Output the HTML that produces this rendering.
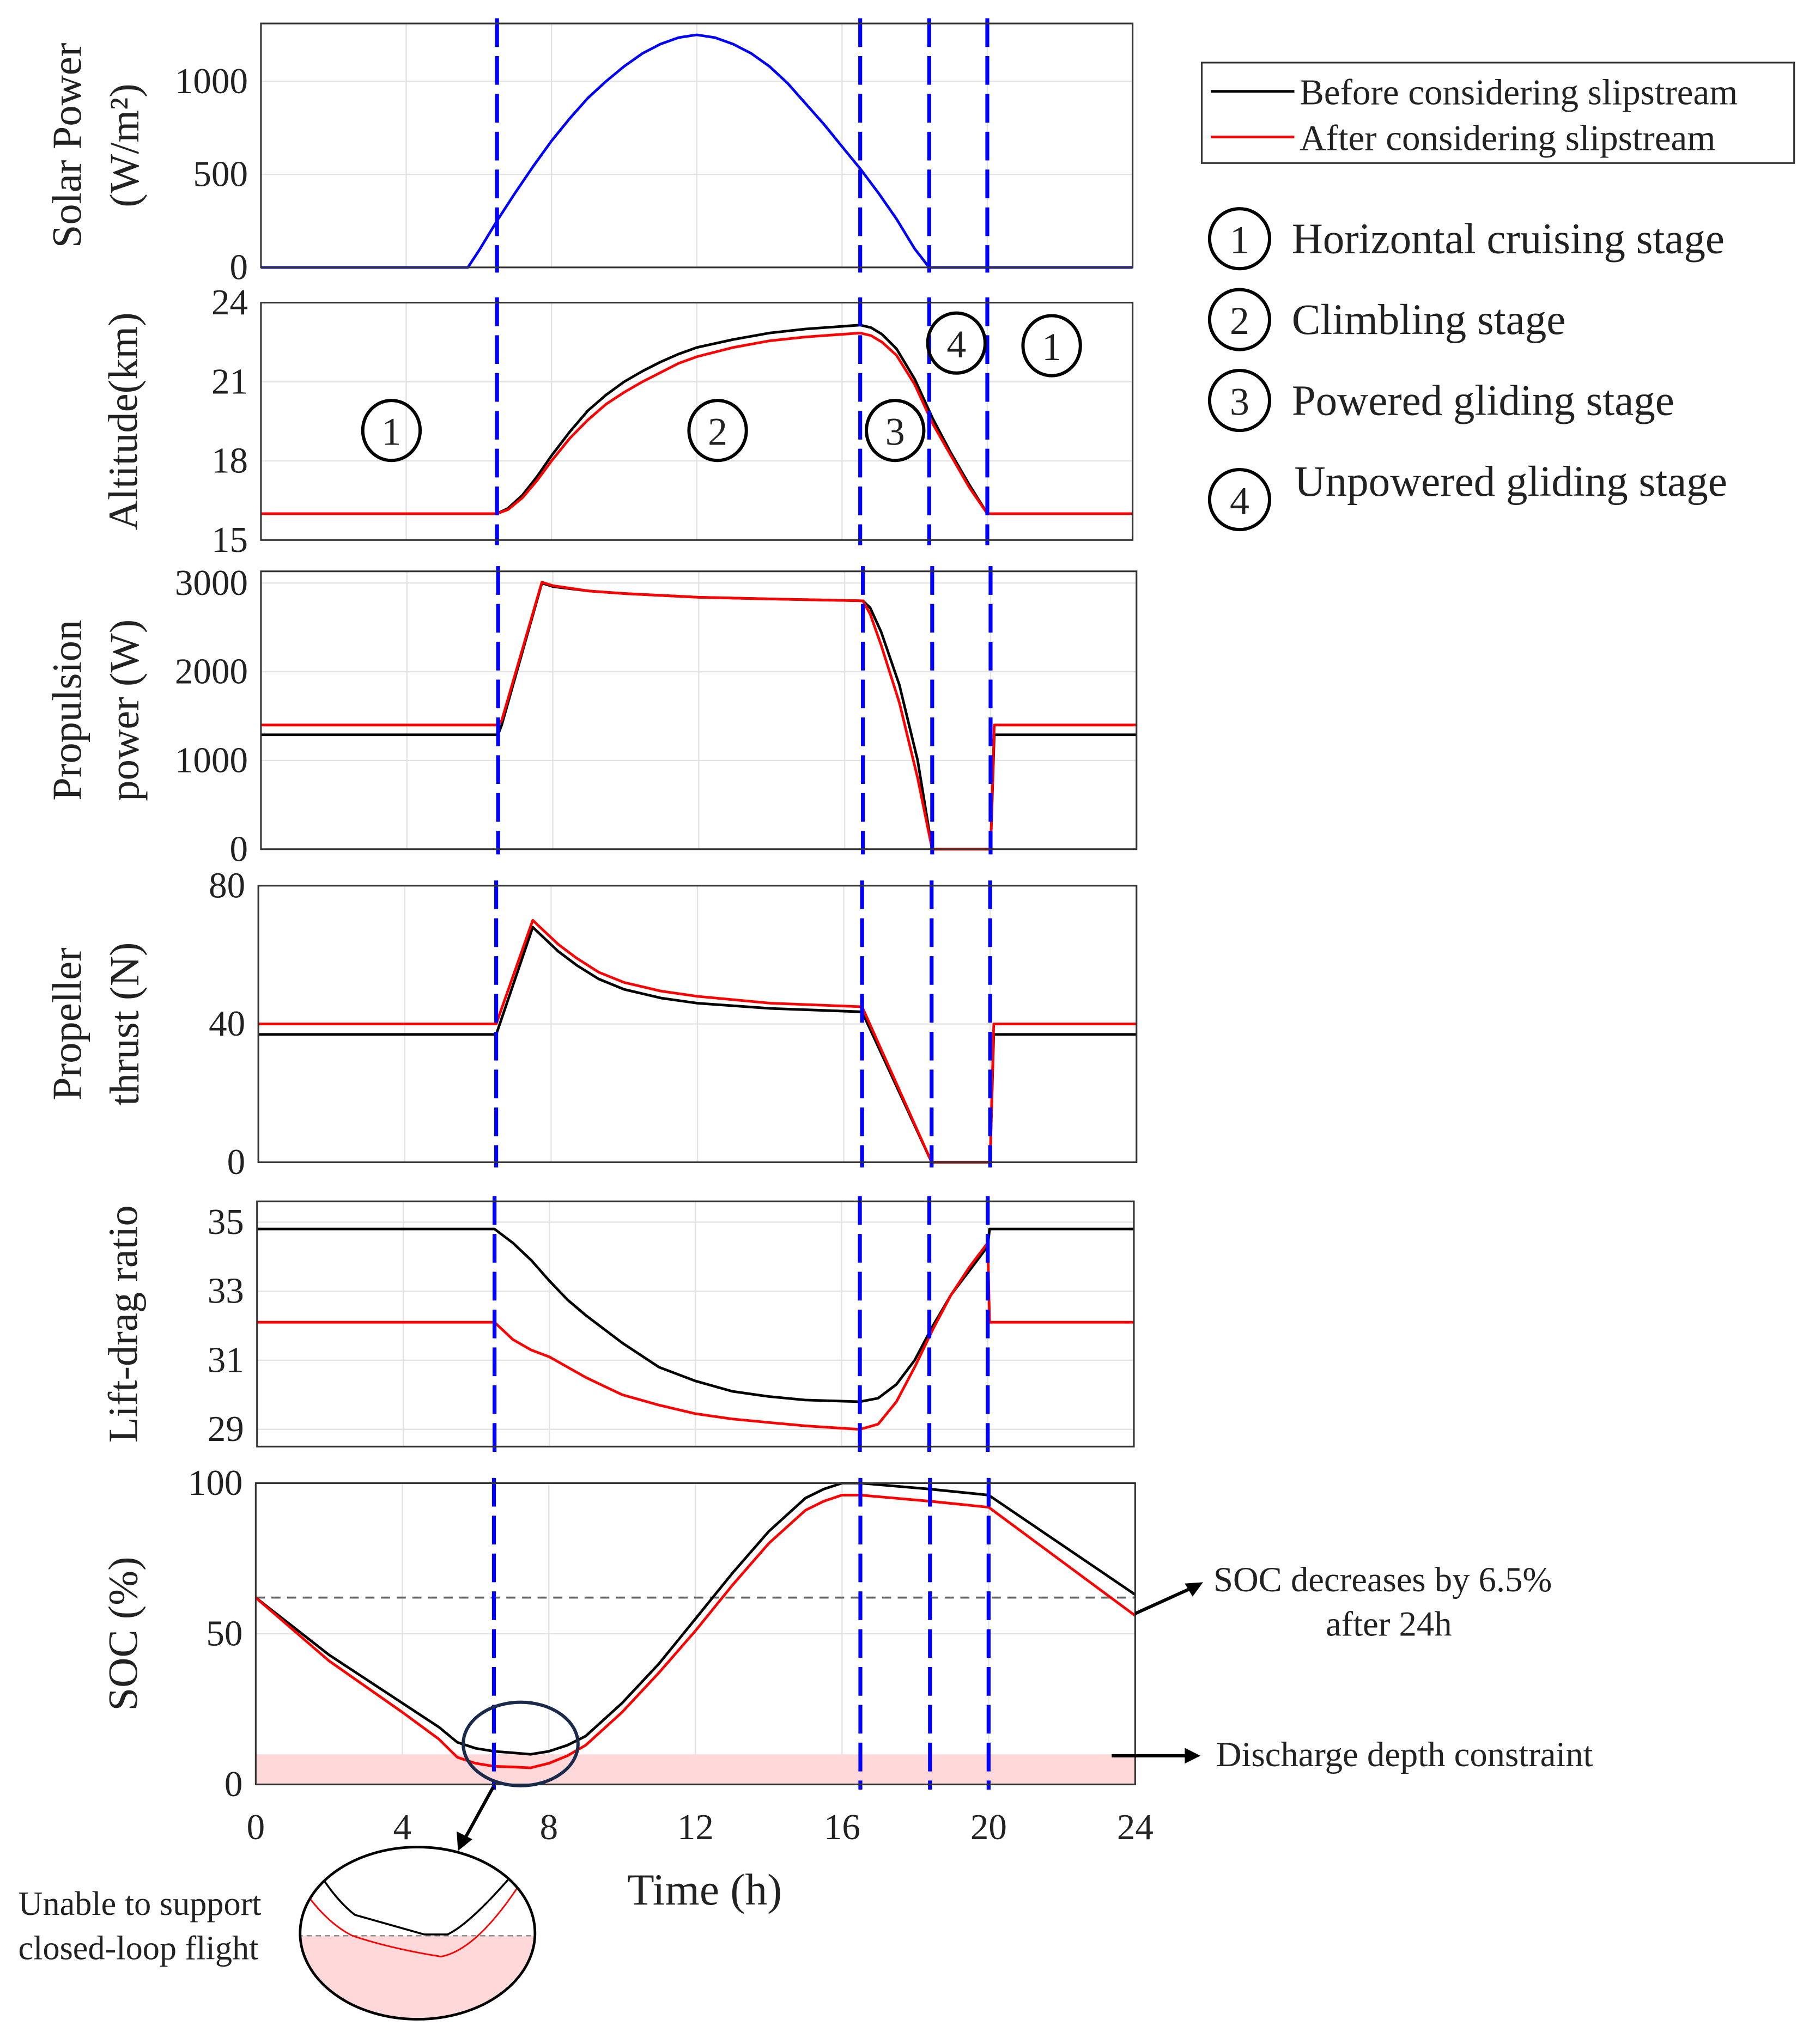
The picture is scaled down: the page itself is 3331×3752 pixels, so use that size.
<!DOCTYPE html>
<html><head><meta charset="utf-8"><style>
html,body{margin:0;padding:0;background:#fff}
body{position:relative;width:3331px;height:3752px;overflow:hidden}
svg{display:block}
text{font-family:"Liberation Serif",serif;fill:#222}
</style></head><body>
<svg id="chart" width="3331" height="3752" viewBox="0 0 1391 1567" preserveAspectRatio="none" xmlns="http://www.w3.org/2000/svg" style="position:absolute;left:0;top:0">
<g id="root"></g>
</svg>
<script>
// ===== data =====
const phaseTimes = [6.5, 16.5, 18.4, 20];
const solarT = [0,5.7,6,6.5,7,7.5,8,8.5,9,9.5,10,10.5,11,11.5,12,12.5,13,13.5,14,14.5,15,15.5,16,16.5,17,17.5,18,18.4,24];
const solarV = [0,0,90,250,400,545,680,800,910,1000,1080,1150,1200,1235,1250,1235,1200,1150,1080,990,880,770,650,530,400,260,100,0,0];
const altT = [0,6.5,6.8,7.2,7.6,8,8.5,9,9.5,10,10.5,11,11.5,12,13,14,15,16,16.5,16.8,17.1,17.5,18,18.5,19,19.5,20,24];
const altBlack = [16,16,16.2,16.7,17.4,18.2,19.1,19.9,20.5,21,21.4,21.75,22.05,22.3,22.6,22.85,23,23.1,23.15,23.05,22.8,22.25,21.1,19.6,18.3,17.1,16,16];
const altRed = [16,16,16.15,16.6,17.25,18.0,18.85,19.55,20.15,20.6,21.0,21.35,21.7,21.95,22.3,22.55,22.7,22.8,22.85,22.75,22.5,22.0,20.9,19.4,18.2,17.0,16,16];
const propT = [0,6.5,6.6,7.7,8,9,10,12,14,16.5,16.7,17,17.5,18,18.4,20,20.1,24];
const propBlack = [1290,1290,1400,3000,2960,2910,2880,2840,2820,2800,2720,2450,1850,1000,0,0,1290,1290];
const propRed = [1400,1400,1450,3010,2970,2910,2880,2840,2820,2800,2650,2300,1650,800,0,0,1400,1400];
const thrT = [0,6.5,7.5,7.8,8.2,8.7,9.3,10,11,12,14,16.5,18.4,20,20.1,24];
const thrBlack = [37,37,68,65,61,57,53,50,47.5,46,44.5,43.5,0,0,37,37];
const thrRed = [40,40,70,67,63,59,55,52,49.5,48,46,45,0,0,40,40];
const ldT = [0,6.5,7,7.5,8,8.5,9,9.5,10,11,12,13,14,15,16.5,17,17.5,18,18.5,19,19.5,20,20.05,24];
const ldBlack = [34.8,34.8,34.4,33.9,33.3,32.75,32.3,31.9,31.5,30.8,30.4,30.1,29.95,29.85,29.8,29.9,30.3,31,32,32.9,33.6,34.3,34.8,34.8];
const ldRed = [32.1,32.1,31.6,31.3,31.1,30.8,30.5,30.25,30,29.7,29.45,29.3,29.2,29.1,29.0,29.15,29.8,30.8,31.9,32.9,33.7,34.4,32.1,32.1];
const socT = [0,2,4,5,5.5,6,6.5,7,7.5,8,8.5,9,10,11,12,13,14,15,15.5,16,16.5,18.4,20,24];
const socBlack = [62,43,27,19,14,12,11,10.5,10,11,13,16,27,40,55,70,84,95,98,100,100,98,96,63];
const socRed = [62,41,24,15,9,7,6,5.8,5.5,7,9.5,13,24,37,51,66,80,91,94,96,96,94,92,56];
const xTicks = [0,4,8,12,16,20,24];

const NS="http://www.w3.org/2000/svg";
const root=document.getElementById('root');
function el(tag,attrs,parent){const e=document.createElementNS(NS,tag);for(const k in attrs)e.setAttribute(k,attrs[k]);(parent||root).appendChild(e);return e;}
function txt(x,y,s,size,anchor,parent,extra){const t=el('text',Object.assign({x:x,y:y,'font-size':size,'text-anchor':anchor||'start'},extra||{}),parent);t.textContent=s;return t;}

const panels=[
 {name:'solar-power',x0:200,x1:868,y0:18,y1:205,vmin:0,vmax:1311,ticks:[0,500,1000],labels:['Solar Power','(W/m²)'],t:solarT,series:[[solarV,'#0000ff']]},
 {name:'altitude',x0:200,x1:868,y0:232,y1:414,vmin:15,vmax:24,ticks:[15,18,21,24],labels:['Altitude(km)'],t:altT,series:[[altBlack,'#000'],[altRed,'#ff0000']]},
 {name:'propulsion-power',x0:200,x1:871,y0:438,y1:651,vmin:0,vmax:3132,ticks:[0,1000,2000,3000],labels:['Propulsion','power (W)'],t:propT,series:[[propBlack,'#000'],[propRed,'#ff0000']]},
 {name:'propeller-thrust',x0:198,x1:871,y0:679,y1:891,vmin:0,vmax:80,ticks:[0,40,80],labels:['Propeller','thrust (N)'],t:thrT,series:[[thrBlack,'#000'],[thrRed,'#ff0000']]},
 {name:'lift-drag-ratio',x0:197,x1:869,y0:921,y1:1109,vmin:28.5,vmax:35.6,ticks:[29,31,33,35],labels:['Lift-drag ratio'],t:ldT,series:[[ldBlack,'#000'],[ldRed,'#ff0000']]},
 {name:'soc',x0:196,x1:870,y0:1137,y1:1368,vmin:0,vmax:100,ticks:[0,50,100],labels:['SOC (%)'],t:socT,series:[[socBlack,'#000'],[socRed,'#ff0000']]}
];

panels.forEach((p,i)=>{
 const g=el('g',{});
 
 
 const X=t=>p.x0+(p.x1-p.x0)*t/24;
 const Y=v=>p.y1-(p.y1-p.y0)*(v-p.vmin)/(p.vmax-p.vmin);
 xTicks.forEach(t=>{if(t>0&&t<24){const l=el('line',{x1:X(t),x2:X(t),y1:p.y0,y2:p.y1,stroke:'#e3e3e3','stroke-width':1},g);
  
  }});
 p.ticks.forEach(v=>{
  const l=el('line',{x1:p.x0,x2:p.x1,y1:Y(v),y2:Y(v),stroke:'#e3e3e3','stroke-width':1},g);
  
  
  const t=txt(p.x0-10,Y(v)+9,String(v),28,'end',g);
  
  
 });
 if(p.name==='soc'){
  const b=el('rect',{x:p.x0,y:Y(10),width:p.x1-p.x0,height:Y(0)-Y(10),fill:'#ffd9d9'},g);
  
  
  const d=el('line',{x1:p.x0,x2:p.x1,y1:Y(62),y2:Y(62),stroke:'#666','stroke-width':1.5,'stroke-dasharray':'7,5'},g);
  
  
 }
 p.series.forEach((s,j)=>{
  const pts=p.t.map((t,k)=>X(t).toFixed(1)+','+Y(s[0][k]).toFixed(1)).join(' ');
  const pl=el('polyline',{points:pts,fill:'none',stroke:s[1],'stroke-width':2,'stroke-linejoin':'round'},g);
  
  
 });
 phaseTimes.forEach(t=>{
  const l=el('line',{x1:X(t),x2:X(t),y1:p.y0-4,y2:p.y1+4,stroke:'#0000ff','stroke-width':3,'stroke-dasharray':'22,7'},g);
  
  
 });
 const fr=el('rect',{x:p.x0,y:p.y0,width:p.x1-p.x0,height:p.y1-p.y0,fill:'none',stroke:'#333','stroke-width':1.3},g);
 
 
 const cy=(p.y0+p.y1)/2;
 const n=p.labels.length;
 p.labels.forEach((s,k)=>{
  const xx= n===1 ? 105 : (k===0?62:106);
  const t=txt(xx,cy,s,32,'middle',g,{transform:`rotate(-90 ${xx} ${cy})`});
  
  
 });
 if(i===5){
  xTicks.forEach(t=>{const tl=txt(X(t),1410,String(t),28,'middle',g);
   
   });
 }
});
</script>
<svg x="0" y="0" width="3331" height="3752" viewBox="0 0 1391 1567" preserveAspectRatio="none" style="position:absolute;left:0;top:0" xmlns="http://www.w3.org/2000/svg">
 <text x="540" y="1460" font-size="34" text-anchor="middle">Time (h)</text>
 <g>
  <rect x="921" y="48" width="454" height="77" fill="#fff" stroke="#333" stroke-width="1.3"/>
  <line x1="928" y1="70" x2="992" y2="70" stroke="#000" stroke-width="2"/>
  <text x="996" y="80" font-size="28">Before considering slipstream</text>
  <line x1="928" y1="105" x2="992" y2="105" stroke="#f00" stroke-width="2"/>
  <text x="996" y="115" font-size="28">After considering slipstream</text>
 </g>
 <g>
  <circle cx="950" cy="183" r="23" fill="none" stroke="#000" stroke-width="2.5"/><text x="950" y="194" font-size="30" text-anchor="middle">1</text>
  <text x="990" y="194" font-size="33">Horizontal cruising stage</text>
  <circle cx="950" cy="245" r="23" fill="none" stroke="#000" stroke-width="2.5"/><text x="950" y="256" font-size="30" text-anchor="middle">2</text>
  <text x="990" y="256" font-size="33">Climbling stage</text>
  <circle cx="950" cy="307" r="23" fill="none" stroke="#000" stroke-width="2.5"/><text x="950" y="318" font-size="30" text-anchor="middle">3</text>
  <text x="990" y="318" font-size="33">Powered gliding stage</text>
  <circle cx="950" cy="383" r="23" fill="none" stroke="#000" stroke-width="2.5"/><text x="950" y="394" font-size="30" text-anchor="middle">4</text>
  <text x="992" y="380" font-size="33">Unpowered gliding stage</text>
 </g>
 <g fill="none" stroke="#000" stroke-width="2.5">
  <ellipse cx="300" cy="330" rx="22" ry="23"/><ellipse cx="550" cy="330" rx="22" ry="23"/><ellipse cx="686" cy="330" rx="22" ry="23"/><ellipse cx="733" cy="263" rx="22" ry="23"/><ellipse cx="806" cy="265" rx="22" ry="23"/>
 </g>
 <g font-size="30" text-anchor="middle">
  <text x="300" y="341">1</text><text x="550" y="341">2</text><text x="686" y="341">3</text><text x="733" y="274">4</text><text x="806" y="276">1</text>
 </g>
 <g>
  <line x1="870" y1="1237" x2="912" y2="1218" stroke="#000" stroke-width="2.5"/>
  <polygon points="922,1213 908,1214 914,1224" fill="#000"/>
  <text x="930" y="1220" font-size="27">SOC decreases by 6.5%</text>
  <text x="1016" y="1254" font-size="27">after 24h</text>
  <line x1="852" y1="1346" x2="910" y2="1346" stroke="#000" stroke-width="2.5"/>
  <polygon points="920,1346 908,1340 908,1352" fill="#000"/>
  <text x="932" y="1354" font-size="27">Discharge depth constraint</text>
  <ellipse cx="399" cy="1337" rx="44" ry="32" fill="none" stroke="#1a2a4a" stroke-width="2.5"/>
  <line x1="378" y1="1370" x2="356" y2="1410" stroke="#000" stroke-width="2.5"/>
  <polygon points="351,1419 350,1404 362,1410" fill="#000"/>
 </g>
 <g>
  <clipPath id="ic"><ellipse cx="320" cy="1482" rx="90" ry="66"/></clipPath>
  <g clip-path="url(#ic)">
   <rect x="228" y="1484" width="190" height="70" fill="#ffd9d9"/>
   <line x1="228" y1="1484" x2="412" y2="1484" stroke="#888" stroke-dasharray="4,3" stroke-width="1"/>
   <path d="M238,1425 Q255,1455 272,1468 Q300,1476 325,1483 L343,1483 Q360,1475 392,1438" fill="none" stroke="#000" stroke-width="1.5"/>
   <path d="M232,1448 Q250,1474 270,1484 Q300,1494 338,1500 Q365,1495 398,1445" fill="none" stroke="#f00" stroke-width="1.2"/>
  </g>
  <ellipse cx="320" cy="1482" rx="90" ry="66" fill="none" stroke="#000" stroke-width="2"/>
  <text x="14" y="1468" font-size="26">Unable to support</text>
  <text x="14" y="1502" font-size="26">closed-loop flight</text>
 </g>
</svg>
</body></html>
